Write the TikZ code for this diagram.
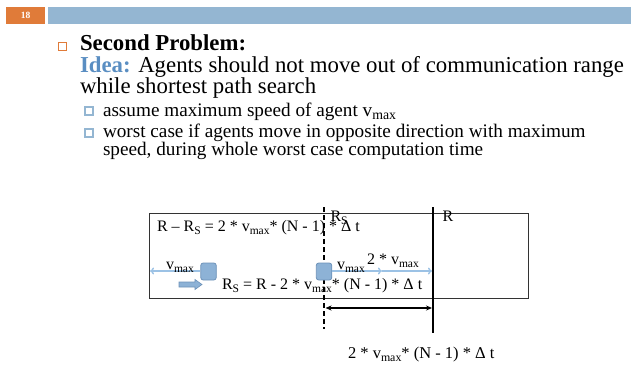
\documentclass[tikz,border=0pt]{standalone}
\usepackage{graphicx}
\usepackage{fontspec}
\setmainfont{Liberation Serif}
\usetikzlibrary{arrows.meta}
\definecolor{hdrorange}{HTML}{E07B39}
\definecolor{hdrblue}{HTML}{94B6D2}
\definecolor{ideablue}{HTML}{5A8EC2}
\definecolor{agentfill}{HTML}{8DB2D6}
\definecolor{agentline}{HTML}{6C91B8}
\definecolor{arrowblue}{HTML}{9CC2E5}
\newcommand{\mysub}[1]{\raisebox{-0.2em}{\scalebox{0.72}{#1}}}
\tikzset{
  txt/.style={anchor=base west, inner sep=0pt, outer sep=0pt},
  bigtxt/.style={txt, font=\fontsize{22.8}{24}\selectfont},
  subtxt/.style={txt, font=\fontsize{19.2}{21}\selectfont},
  dtxt/.style={txt, font=\fontsize{16}{18}\selectfont},
  dtxtb/.style={txt, font=\fontsize{16.5}{18}\selectfont},
  agent/.style={draw=agentline, fill=agentfill, line width=0.8pt, rounded corners=2.5pt, minimum width=15.5pt, minimum height=17pt, inner sep=0pt},
  movearrow/.style={draw=arrowblue, line width=1.4pt, -{To[length=4pt,width=7pt]}},
  subbullet/.style={draw=hdrblue, fill=white, line width=2pt, minimum size=8pt, inner sep=0pt},
}
\begin{document}
\begin{tikzpicture}[x=1pt,y=-1pt]
\useasboundingbox (0,0) rectangle (631,369);
% header
\fill[hdrorange] (6,7) rectangle (45,24);
\node[font=\fontsize{9.5}{10}\selectfont\bfseries, text=white, inner sep=0pt] (num) at (25.5,15.8) {18};
\fill[hdrblue] (48,7) rectangle (631,24);
% main bullet
\node[draw=hdrorange, line width=0.8pt, minimum size=8pt, inner sep=0pt] (cb) at (62.5,46.5) {};
\node[bigtxt] (title) at (80,50.5) {\bfseries Second Problem:};
\node[bigtxt] (idea) at (80,72.5) {\textcolor{ideablue}{\bfseries Idea:} Agents should not move out of communication range};
\node[bigtxt] (idea2) at (80,93.5) {while shortest path search};
% sub bullets
\node[subbullet] (b1) at (88.8,111.3) {};
\node[subtxt] (s1) at (103,116) {assume maximum speed of agent v\mysub{max}};
\node[subbullet] (b2) at (88.8,133.3) {};
\node[subtxt] (s2) at (103,137.5) {worst case if agents move in opposite direction with maximum};
\node[subtxt] (s3) at (103,155.5) {speed, during whole worst case computation time};
% diagram frame
\node[draw=black!80, line width=0.9pt, minimum width=379pt, minimum height=85pt, inner sep=0pt, anchor=north west] (frame) at (149,213) {};
\coordinate (dtop) at (324,207);
\coordinate (dbot) at (324,329);
\coordinate (stop) at (433,207);
\coordinate (sbot) at (433,333);
\draw[line width=1.6pt, dash pattern=on 5pt off 3pt] (dtop) -- (dbot);
\draw[line width=1.5pt] (stop) -- (sbot);
\node[dtxt] (rs) at (330.5,221.5) {R\mysub{S}};
\node[dtxt] (r) at (442.5,221.8) {R};
\node[dtxt] (eq1) at (157,231.7) {R – R\mysub{S} = 2 * v\mysub{max}* (N - 1) * Δ t};
% left agent
\node[agent] (agL) at (208.5,271.5) {};
\coordinate (lend) at (150,271);
\draw[movearrow] (agL.west |- lend) -- (lend);
\node[dtxt] (vL) at (166,269.5) {v\mysub{max}};
\fill[agentfill, draw=agentline, line width=0.6pt] (179,282) -- (195,282) -- (195,279.5) -- (202,284.5) -- (195,289.5) -- (195,287) -- (179,287) -- cycle;
\node[dtxt] (eq2) at (222,289.3) {R\mysub{S} = R - 2 * v\mysub{max}* (N - 1) * Δ t};
% right agent
\node[agent] (agR) at (324,271.5) {};
\coordinate (mid) at (382,271);
\coordinate (rend) at (432,271);
\draw[movearrow] (agR.east |- mid) -- (mid);
\draw[movearrow] (mid) -- (rend);
\node[dtxt] (vR) at (337,269.5) {v\mysub{max}};
\node[dtxt] (v2) at (367,264) {2 * v\mysub{max}};
% distance
\coordinate (da) at (325.5,308);
\coordinate (db) at (432,308);
\draw[line width=1.1pt, {Stealth[length=6pt,width=5pt]}-{Stealth[length=6pt,width=5pt]}] (da) -- (db);
\node[dtxtb] (dist) at (348,358) {2 * v\mysub{max}* (N - 1) * Δ t};
\end{tikzpicture}
\end{document}
